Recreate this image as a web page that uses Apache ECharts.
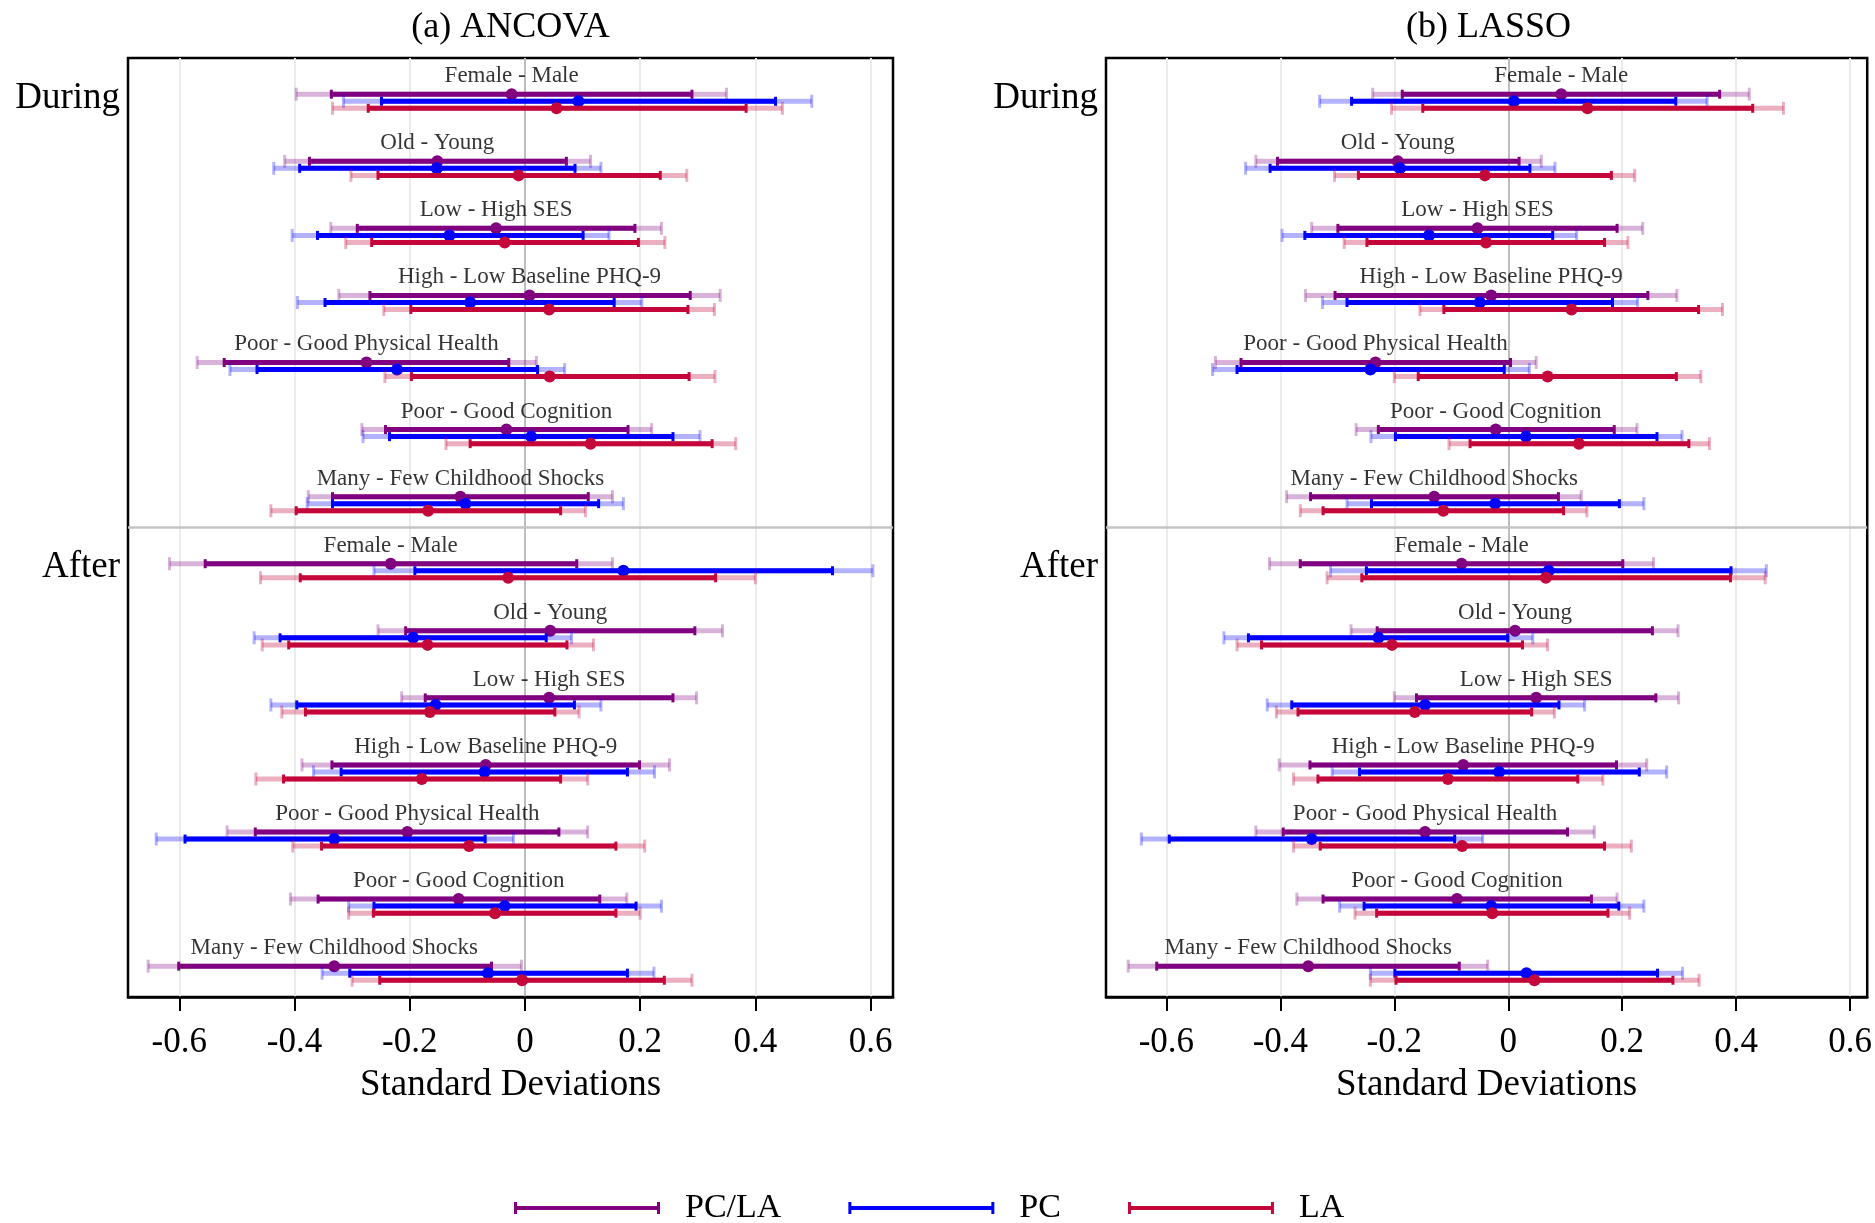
<!DOCTYPE html>
<html>
<head>
<meta charset="utf-8">
<script src="https://cdn.jsdelivr.net/npm/echarts@6/dist/echarts.min.js"></script>
<style>
html, body { margin: 0; padding: 0; background: #fff; }
#chart { width: 1875px; height: 1223px; }
</style>
</head>
<body>
<div id="chart"></div>
<script>
// contrasts, During rows first then After rows
var groupNames = [
    'Female - Male', 'Old - Young', 'Low - High SES', 'High - Low Baseline PHQ-9',
    'Poor - Good Physical Health', 'Poor - Good Cognition', 'Many - Few Childhood Shocks',
    'Female - Male', 'Old - Young', 'Low - High SES', 'High - Low Baseline PHQ-9',
    'Poor - Good Physical Health', 'Poor - Good Cognition', 'Many - Few Childhood Shocks'
]
var periodNames = ['During', 'After']
var xTicks = [-0.6, -0.4, -0.2, 0, 0.2, 0.4, 0.6]

// each row: [outer lo, inner lo, estimate, inner hi, outer hi]
var ancovaPcla = [
    [-0.397, -0.336, -0.023, 0.290, 0.350],
    [-0.417, -0.374, -0.152, 0.072, 0.114],
    [-0.337, -0.291, -0.050, 0.191, 0.237],
    [-0.323, -0.269, 0.008, 0.287, 0.339],
    [-0.569, -0.522, -0.275, -0.028, 0.020],
    [-0.283, -0.242, -0.032, 0.179, 0.220],
    [-0.376, -0.334, -0.112, 0.110, 0.152],
    [-0.617, -0.555, -0.233, 0.090, 0.152],
    [-0.255, -0.207, 0.044, 0.295, 0.343],
    [-0.214, -0.173, 0.042, 0.257, 0.298],
    [-0.387, -0.335, -0.068, 0.199, 0.251],
    [-0.517, -0.468, -0.204, 0.059, 0.109],
    [-0.407, -0.359, -0.115, 0.130, 0.177],
    [-0.654, -0.601, -0.331, -0.058, -0.006]
]
var ancovaPc = [
    [-0.315, -0.249, 0.093, 0.435, 0.498],
    [-0.436, -0.391, -0.153, 0.087, 0.132],
    [-0.404, -0.360, -0.131, 0.101, 0.146],
    [-0.395, -0.347, -0.095, 0.155, 0.203],
    [-0.512, -0.465, -0.222, 0.022, 0.069],
    [-0.281, -0.235, 0.011, 0.257, 0.304],
    [-0.378, -0.334, -0.103, 0.128, 0.171],
    [-0.262, -0.191, 0.171, 0.534, 0.604],
    [-0.470, -0.425, -0.194, 0.037, 0.081],
    [-0.441, -0.396, -0.155, 0.086, 0.132],
    [-0.367, -0.319, -0.070, 0.178, 0.225],
    [-0.640, -0.590, -0.331, -0.069, -0.020],
    [-0.306, -0.262, -0.035, 0.193, 0.237],
    [-0.352, -0.304, -0.064, 0.178, 0.224]
]
var ancovaLa = [
    [-0.334, -0.272, 0.055, 0.384, 0.447],
    [-0.302, -0.255, -0.011, 0.235, 0.281],
    [-0.311, -0.266, -0.035, 0.197, 0.243],
    [-0.245, -0.198, 0.042, 0.283, 0.329],
    [-0.243, -0.197, 0.043, 0.285, 0.330],
    [-0.137, -0.095, 0.114, 0.325, 0.366],
    [-0.441, -0.397, -0.168, 0.062, 0.105],
    [-0.459, -0.390, -0.029, 0.331, 0.400],
    [-0.456, -0.410, -0.169, 0.073, 0.119],
    [-0.422, -0.381, -0.165, 0.052, 0.094],
    [-0.467, -0.419, -0.179, 0.062, 0.109],
    [-0.403, -0.353, -0.097, 0.158, 0.208],
    [-0.306, -0.263, -0.052, 0.158, 0.200],
    [-0.300, -0.252, -0.005, 0.242, 0.290]
]
var lassoPcla = [
    [-0.238, -0.186, 0.093, 0.371, 0.423],
    [-0.443, -0.405, -0.194, 0.019, 0.058],
    [-0.345, -0.299, -0.054, 0.191, 0.236],
    [-0.356, -0.304, -0.030, 0.245, 0.296],
    [-0.514, -0.469, -0.233, 0.004, 0.049],
    [-0.267, -0.228, -0.022, 0.186, 0.226],
    [-0.389, -0.347, -0.130, 0.088, 0.128],
    [-0.419, -0.365, -0.082, 0.201, 0.255],
    [-0.276, -0.230, 0.012, 0.253, 0.298],
    [-0.200, -0.161, 0.049, 0.259, 0.299],
    [-0.402, -0.348, -0.079, 0.190, 0.243],
    [-0.443, -0.395, -0.146, 0.104, 0.151],
    [-0.371, -0.325, -0.090, 0.146, 0.191],
    [-0.667, -0.617, -0.351, -0.086, -0.036]
]
var lassoPc = [
    [-0.331, -0.275, 0.010, 0.294, 0.349],
    [-0.461, -0.418, -0.190, 0.038, 0.082],
    [-0.397, -0.357, -0.139, 0.078, 0.120],
    [-0.326, -0.283, -0.050, 0.183, 0.227],
    [-0.519, -0.476, -0.242, -0.007, 0.037],
    [-0.241, -0.198, 0.031, 0.261, 0.305],
    [-0.283, -0.240, -0.023, 0.195, 0.238],
    [-0.312, -0.249, 0.071, 0.391, 0.453],
    [-0.499, -0.456, -0.228, -0.001, 0.043],
    [-0.423, -0.380, -0.146, 0.089, 0.134],
    [-0.309, -0.261, -0.016, 0.230, 0.278],
    [-0.644, -0.595, -0.345, -0.094, -0.045],
    [-0.296, -0.253, -0.030, 0.194, 0.238],
    [-0.242, -0.199, 0.032, 0.262, 0.306]
]
var lassoLa = [
    [-0.205, -0.150, 0.139, 0.429, 0.483],
    [-0.305, -0.263, -0.041, 0.181, 0.222],
    [-0.288, -0.248, -0.039, 0.169, 0.210],
    [-0.155, -0.113, 0.111, 0.334, 0.376],
    [-0.200, -0.158, 0.069, 0.295, 0.338],
    [-0.104, -0.067, 0.124, 0.317, 0.353],
    [-0.365, -0.325, -0.114, 0.097, 0.138],
    [-0.318, -0.257, 0.066, 0.390, 0.451],
    [-0.476, -0.433, -0.204, 0.025, 0.069],
    [-0.407, -0.369, -0.164, 0.041, 0.081],
    [-0.377, -0.334, -0.106, 0.122, 0.166],
    [-0.377, -0.330, -0.081, 0.169, 0.216],
    [-0.269, -0.231, -0.028, 0.175, 0.213],
    [-0.242, -0.197, 0.046, 0.289, 0.335]
]

var serif = '"Liberation Serif", "DejaVu Serif", serif'
var methods = [
    { name: 'PC/LA', color: '#800080', light: 'rgba(128,0,128,0.3)', offset: 0.54 },
    { name: 'PC', color: '#0000ff', light: 'rgba(0,0,255,0.3)', offset: 0.645 },
    { name: 'LA', color: '#c4063a', light: 'rgba(196,6,58,0.32)', offset: 0.75 }
]
var panels = [
    { title: '(a) ANCOVA', left: 128, width: 765, min: -0.689, max: 0.639, rows: [ancovaPcla, ancovaPc, ancovaLa] },
    { title: '(b) LASSO', left: 1106, width: 765, min: -0.706, max: 0.630, rows: [lassoPcla, lassoPc, lassoLa] }
]

function ciSeries(method, rows, gridIndex) {
    return {
        name: method.name,
        type: 'custom',
        xAxisIndex: gridIndex,
        yAxisIndex: gridIndex,
        z: 3,
        silent: true,
        itemStyle: { color: method.color },
        encode: { x: [0, 1, 2, 3, 4], y: 5 },
        data: rows.map(function (r, i) {
            return r.concat([i + method.offset])
        }),
        renderItem: function (params, api) {
            var y = api.value(5)
            var p = [0, 1, 2, 3, 4].map(function (k) {
                return api.coord([api.value(k), y])
            })
            var cy = p[0][1]
            function seg(x1, x2, color) {
                return { type: 'line', shape: { x1: x1, y1: cy, x2: x2, y2: cy }, style: { stroke: color, lineWidth: 5 } }
            }
            function cap(x, h, color) {
                return { type: 'line', shape: { x1: x, y1: cy - h, x2: x, y2: cy + h }, style: { stroke: color, lineWidth: 3 } }
            }
            return {
                type: 'group',
                children: [
                    seg(p[0][0], p[4][0], method.light),
                    cap(p[0][0], 6.5, method.light),
                    cap(p[4][0], 6.5, method.light),
                    seg(p[1][0], p[3][0], method.color),
                    cap(p[1][0], 4.5, method.color),
                    cap(p[3][0], 4.5, method.color),
                    { type: 'circle', shape: { cx: p[2][0], cy: cy, r: 6 }, style: { fill: method.color } }
                ]
            }
        }
    }
}

// vertical grid lines and the During/After divider, kept under everything
function gridLineSeries(gridIndex) {
    var lines = xTicks.map(function (v) {
        return { xAxis: v, lineStyle: { color: v === 0 ? '#bdbdbd' : '#ebebeb', width: 2, type: 'solid' } }
    })
    lines.push({ yAxis: 7, lineStyle: { color: '#c4c4c4', width: 2.5, type: 'solid' } })
    return {
        type: 'scatter',
        xAxisIndex: gridIndex,
        yAxisIndex: gridIndex,
        z: 0,
        silent: true,
        symbolSize: 0,
        data: [[0, 7]],
        markLine: {
            z: 0,
            silent: true,
            symbol: 'none',
            label: { show: false },
            animation: false,
            data: lines
        }
    }
}

function labelSeries(pclaRows, gridIndex) {
    return {
        type: 'scatter',
        xAxisIndex: gridIndex,
        yAxisIndex: gridIndex,
        z: 6,
        silent: true,
        symbolSize: 0,
        data: pclaRows.map(function (r, i) {
            return [r[2], i + 0.27, groupNames[i]]
        }),
        label: {
            show: true,
            position: 'inside',
            formatter: function (p) { return p.value[2] },
            fontFamily: serif,
            fontSize: 23,
            color: '#000'
        }
    }
}

var chart = echarts.init(document.getElementById('chart'))
var options = {
    animation: false,
    backgroundColor: '#fff',
    color: methods.map(function (m) { return m.color }),
    title: panels.map(function (p) {
        return {
            text: p.title,
            left: p.left + p.width / 2,
            top: 10,
            padding: 0,
            textAlign: 'center',
            textStyle: { fontFamily: serif, fontWeight: 'normal', fontSize: 36, color: '#000' }
        }
    }),
    legend: {
        data: methods.map(function (m) { return m.name }),
        left: 514,
        top: 1191,
        padding: 0,
        itemGap: 67,
        itemWidth: 146,
        itemHeight: 12,
        icon: 'path://M0,0 L3,0 L3,4 L143,4 L143,0 L146,0 L146,12 L143,12 L143,8 L3,8 L3,12 L0,12 Z',
        textStyle: { fontFamily: serif, fontSize: 34, color: '#000', padding: [0, 0, 0, 20] }
    },
    grid: panels.map(function (p) {
        return { left: p.left, top: 58, width: p.width, height: 939, show: true, borderColor: '#000', borderWidth: 2.5 }
    }),
    xAxis: panels.map(function (p, i) {
        return {
            gridIndex: i,
            type: 'value',
            min: p.min,
            max: p.max,
            splitLine: { show: false },
            axisLine: { show: true, onZero: false, lineStyle: { color: '#000', width: 2.5 } },
            axisTick: { show: true, inside: false, length: 14, customValues: xTicks, lineStyle: { color: '#000', width: 2 } },
            axisLabel: {
                customValues: xTicks,
                formatter: function (v) { return v === 0 ? '0' : v.toFixed(1) },
                fontFamily: serif,
                fontSize: 35,
                color: '#000',
                margin: 28
            },
            name: 'Standard Deviations',
            nameLocation: 'middle',
            nameGap: 70,
            nameTextStyle: { fontFamily: serif, fontSize: 37, color: '#000' }
        }
    }),
    yAxis: panels.map(function (p, i) {
        return {
            gridIndex: i,
            type: 'value',
            min: 0,
            max: 14,
            inverse: true,
            splitLine: { show: false },
            axisLine: { show: false },
            axisTick: { show: false },
            axisLabel: {
                customValues: [0.6, 7.6],
                formatter: function (v) { return v < 7 ? periodNames[0] : periodNames[1] },
                fontFamily: serif,
                fontSize: 37,
                color: '#000',
                margin: 8
            }
        }
    }),
    series: []
}
panels.forEach(function (p, gi) {
    options.series.push(gridLineSeries(gi))
    options.series.push(labelSeries(p.rows[0], gi))
    methods.forEach(function (m, mi) {
        options.series.push(ciSeries(m, p.rows[mi], gi))
    })
})
chart.setOption(options)
</script>
</body>
</html>
